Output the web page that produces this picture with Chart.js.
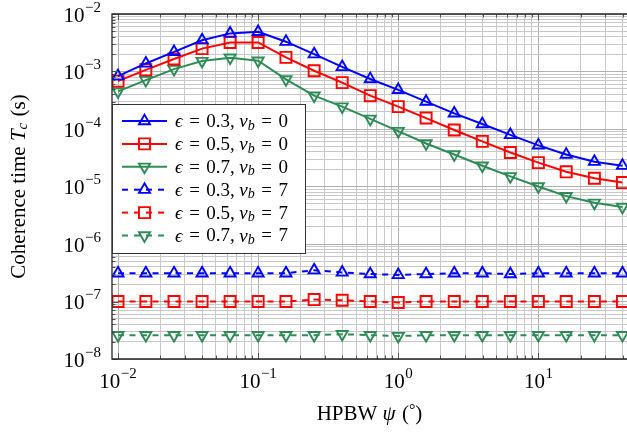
<!DOCTYPE html>
<html>
<head>
<meta charset="utf-8">
<script src="https://cdn.jsdelivr.net/npm/chart.js@4.4.1/dist/chart.umd.min.js"></script>
<style>
  html, body { margin: 0; padding: 0; background: #fff; }
  #wrap { width: 627px; height: 432px; }
</style>
</head>
<body>
<div id="wrap"><canvas id="tcChart" width="627" height="432"></canvas></div>
<script>
// HPBW values (degrees)
const xValues = [0.01, 0.0158, 0.0251, 0.0398, 0.0631, 0.1, 0.158, 0.251, 0.398, 0.631,
                 1, 1.58, 2.51, 3.98, 6.31, 10, 15.8, 25.1, 39.8];

// coherence time, v_b = 0
const eps03vb0 = [8.3e-4, 1.38e-3, 2.2e-3, 3.5e-3, 4.6e-3, 4.9e-3, 3.3e-3, 2.0e-3, 1.2e-3, 7.4e-4,
                  4.8e-4, 3.0e-4, 1.87e-4, 1.22e-4, 7.9e-5, 5.2e-5, 3.6e-5, 2.7e-5, 2.3e-5];
const eps05vb0 = [6.8e-4, 1.07e-3, 1.65e-3, 2.5e-3, 3.2e-3, 3.2e-3, 1.76e-3, 1.03e-3, 6.4e-4, 3.8e-4,
                  2.45e-4, 1.55e-4, 9.6e-5, 6.1e-5, 3.9e-5, 2.6e-5, 1.8e-5, 1.39e-5, 1.17e-5];
const eps07vb0 = [4.5e-4, 7.1e-4, 1.1e-3, 1.52e-3, 1.74e-3, 1.54e-3, 7.3e-4, 3.8e-4, 2.45e-4, 1.5e-4,
                  9.2e-5, 5.6e-5, 3.6e-5, 2.3e-5, 1.5e-5, 1.0e-5, 6.8e-6, 5.2e-6, 4.4e-6];

// coherence time, v_b = 7
const eps03vb7 = [3.1e-7, 3.1e-7, 3.1e-7, 3.1e-7, 3.1e-7, 3.1e-7, 3.1e-7, 3.5e-7, 3.2e-7, 3.0e-7,
                  2.9e-7, 3.0e-7, 3.1e-7, 3.1e-7, 3.0e-7, 3.1e-7, 3.1e-7, 3.1e-7, 3.1e-7];
const eps05vb7 = [1.0e-7, 1.0e-7, 1.0e-7, 1.0e-7, 1.0e-7, 1.0e-7, 1.0e-7, 1.08e-7, 1.05e-7, 1.0e-7,
                  9.6e-8, 1.0e-7, 1.0e-7, 1.0e-7, 1.0e-7, 1.0e-7, 1.0e-7, 1.0e-7, 1.0e-7];
const eps07vb7 = [2.6e-8, 2.6e-8, 2.6e-8, 2.6e-8, 2.6e-8, 2.6e-8, 2.6e-8, 2.6e-8, 2.7e-8, 2.6e-8,
                  2.5e-8, 2.6e-8, 2.6e-8, 2.6e-8, 2.6e-8, 2.6e-8, 2.6e-8, 2.6e-8, 2.6e-8];

// tick labels (10 to the power of ...)
const xMajorTicks = [0.01, 0.1, 1, 10];
const xTickExps = ['\u22122', '\u22121', '0', '1'];
const yMajorTicks = [1e-8, 1e-7, 1e-6, 1e-5, 1e-4, 1e-3, 1e-2];
const yTickExps = ['\u22128', '\u22127', '\u22126', '\u22125', '\u22124', '\u22123', '\u22122'];

const legendEps = ['0.3', '0.5', '0.7', '0.3', '0.5', '0.7'];
const legendVb = ['0', '0', '0', '7', '7', '7'];

const BLUE = '#0000ff', RED = '#ff0000', GREEN = '#2e8b57';
const SERIF = "'Liberation Serif', 'DejaVu Serif', serif";

function toPoints(ys) {
    return xValues.map((x, i) => ({ x: x, y: ys[i] }));
}

function makeSet(label, ys, color, shape, dashed) {
    const isRect = shape === 'rect';
    return {
        label: label,
        data: toPoints(ys),
        borderColor: color,
        backgroundColor: 'rgba(0,0,0,0)',
        borderWidth: 2,
        borderDash: dashed ? [6, 5.5] : [],
        pointStyle: isRect ? 'rect' : 'triangle',
        pointRotation: shape === 'down' ? 180 : 0,
        pointRadius: isRect ? 7.8 : 6.4,
        pointBorderWidth: 1.9,
        pointBorderColor: color,
        pointBackgroundColor: 'rgba(0,0,0,0)',
        tension: 0
    };
}

const datasets = [
    makeSet('eps=0.3, vb=0', eps03vb0, BLUE, 'up', false),
    makeSet('eps=0.5, vb=0', eps05vb0, RED, 'rect', false),
    makeSet('eps=0.7, vb=0', eps07vb0, GREEN, 'down', false),
    makeSet('eps=0.3, vb=7', eps03vb7, BLUE, 'up', true),
    makeSet('eps=0.5, vb=7', eps05vb7, RED, 'rect', true),
    makeSet('eps=0.7, vb=7', eps07vb7, GREEN, 'down', true)
];

function logTicks(min, max) {
    const out = [];
    for (let e = Math.floor(Math.log10(min)); e <= Math.ceil(Math.log10(max)); e++) {
        for (let m = 1; m <= 9; m++) {
            const v = m * Math.pow(10, e);
            if (v >= min * 0.9999 && v <= max * 1.0001) out.push({ value: v });
        }
    }
    return out;
}

function isDecade(v) {
    const l = Math.log10(v);
    return Math.abs(l - Math.round(l)) < 1e-6;
}

// draw a sequence of text pieces: {t, font, dy}
function drawRuns(ctx, runs, x, y, align) {
    let total = 0;
    runs.forEach(r => { ctx.font = r.font; r.w = ctx.measureText(r.t).width + (r.gap || 0); total += r.w; });
    let cx = align === 'right' ? x - total : align === 'center' ? x - total / 2 : x;
    runs.forEach(r => {
        ctx.font = r.font;
        ctx.fillText(r.t, cx, y + (r.dy || 0));
        cx += r.w;
    });
}

const decorPlugin = {
    id: 'decor',
    afterDraw(chart) {
        const ctx = chart.ctx;
        const a = chart.chartArea;
        const xs = chart.scales.x, ys = chart.scales.y;
        ctx.save();

        // tick marks (inside)
        ctx.strokeStyle = '#555';
        ctx.lineWidth = 1;
        xs.ticks.forEach(t => {
            const px = Math.round(xs.getPixelForValue(t.value)) + 0.5;
            const len = isDecade(t.value) ? 6 : 3.5;
            ctx.beginPath();
            ctx.moveTo(px, a.bottom); ctx.lineTo(px, a.bottom - len);
            ctx.moveTo(px, a.top); ctx.lineTo(px, a.top + len);
            ctx.stroke();
        });
        ys.ticks.forEach(t => {
            const py = Math.round(ys.getPixelForValue(t.value)) + 0.5;
            const len = isDecade(t.value) ? 6 : 3.5;
            ctx.beginPath();
            ctx.moveTo(a.left, py); ctx.lineTo(a.left + len, py);
            ctx.stroke();
        });

        // frame
        ctx.strokeStyle = '#262626';
        ctx.lineWidth = 1.3;
        ctx.beginPath();
        ctx.moveTo(a.right + 2, a.top);
        ctx.lineTo(a.left, a.top);
        ctx.lineTo(a.left, a.bottom);
        ctx.lineTo(a.right + 2, a.bottom);
        ctx.stroke();

        // tick labels
        ctx.fillStyle = '#000';
        ctx.textBaseline = 'middle';
        const baseFont = '21px ' + SERIF;
        const expFont = '15px ' + SERIF;
        yMajorTicks.forEach((v, i) => {
            const py = ys.getPixelForValue(v);
            drawRuns(ctx, [
                { t: '10', font: baseFont, dy: 2, gap: 0.5 },
                { t: yTickExps[i], font: expFont, dy: -6 }
            ], 101, py, 'right');
        });
        xMajorTicks.forEach((v, i) => {
            const px = xs.getPixelForValue(v);
            drawRuns(ctx, [
                { t: '10', font: baseFont, dy: 0, gap: 0.5 },
                { t: xTickExps[i], font: expFont, dy: -8 }
            ], px, 382, 'center');
        });

        // axis titles
        const titleFont = '21px ' + SERIF;
        const italicFont = 'italic 21px ' + SERIF;
        drawRuns(ctx, [
            { t: 'HPBW ', font: titleFont },
            { t: '\u03c8', font: italicFont, gap: 1 },
            { t: ' (', font: titleFont },
            { t: '\u00b0', font: '16px ' + SERIF, dy: -3 },
            { t: ')', font: titleFont }
        ], (a.left + 627) / 2, 414, 'center');

        ctx.save();
        ctx.translate(19, (a.top + a.bottom) / 2);
        ctx.rotate(-Math.PI / 2);
        drawRuns(ctx, [
            { t: 'Coherence time ', font: titleFont },
            { t: 'T', font: italicFont },
            { t: 'c', font: 'italic 15px ' + SERIF, dy: 4, gap: 1 },
            { t: ' (s)', font: titleFont }
        ], 0, 0, 'center');
        ctx.restore();

        // legend
        const lx = 112.5, ly = 104.5, lw = 193, lh = 149;
        ctx.fillStyle = '#fff';
        ctx.fillRect(lx, ly, lw, lh);
        ctx.strokeStyle = '#333';
        ctx.lineWidth = 1;
        ctx.strokeRect(lx, ly, lw, lh);
        chart.data.datasets.forEach((ds, i) => {
            const cy = 121 + i * 22.9;
            ctx.save();
            ctx.strokeStyle = ds.borderColor;
            ctx.fillStyle = 'rgba(0,0,0,0)';
            ctx.lineWidth = ds.borderWidth;
            ctx.setLineDash(ds.borderDash.length ? [6, 6] : []);
            ctx.beginPath();
            ctx.moveTo(122, cy); ctx.lineTo(167, cy);
            ctx.stroke();
            ctx.setLineDash([]);
            ctx.lineWidth = ds.pointBorderWidth;
            Chart.helpers.drawPoint(ctx, {
                pointStyle: ds.pointStyle,
                rotation: ds.pointRotation,
                radius: ds.pointRadius,
                borderWidth: ds.pointBorderWidth
            }, 144.5, cy);
            ctx.restore();

            ctx.fillStyle = '#000';
            ctx.textBaseline = 'middle';
            const f = '19px ' + SERIF, fi = 'italic 19px ' + SERIF;
            drawRuns(ctx, [
                { t: '\u03f5', font: fi, gap: 6.5 },
                { t: '=', font: f, gap: 6.5 },
                { t: legendEps[i] + ',', font: f, gap: 4.5 },
                { t: 'v', font: fi },
                { t: 'b', font: 'italic 14px ' + SERIF, dy: 4, gap: 6.5 },
                { t: '=', font: f, gap: 6.5 },
                { t: legendVb[i], font: f }
            ], 175, cy + 1, 'left');
        });

        ctx.restore();
    }
};

new Chart(document.getElementById('tcChart'), {
    type: 'line',
    data: { datasets: datasets },
    options: {
        responsive: false,
        animation: false,
        devicePixelRatio: 1,
        layout: { autoPadding: false, padding: { left: 112, top: 14, right: 0, bottom: 73 } },
        plugins: { legend: { display: false }, tooltip: { enabled: false } },
        scales: {
            x: {
                type: 'logarithmic',
                min: 0.00906,
                max: 42.9,
                afterBuildTicks: scale => { scale.ticks = logTicks(scale.min, scale.max); },
                ticks: { display: false },
                border: { display: false },
                grid: {
                    drawTicks: false,
                    lineWidth: 1,
                    color: c => isDecade(c.tick.value) ? '#b0b0b0' : '#c8c8c8'
                }
            },
            y: {
                type: 'logarithmic',
                min: 1e-8,
                max: 1e-2,
                afterBuildTicks: scale => { scale.ticks = logTicks(scale.min, scale.max); },
                ticks: { display: false },
                border: { display: false },
                grid: {
                    drawTicks: false,
                    lineWidth: 1,
                    color: c => isDecade(c.tick.value) ? '#b0b0b0' : '#c8c8c8'
                }
            }
        }
    },
    plugins: [decorPlugin]
});
</script>
</body>
</html>
